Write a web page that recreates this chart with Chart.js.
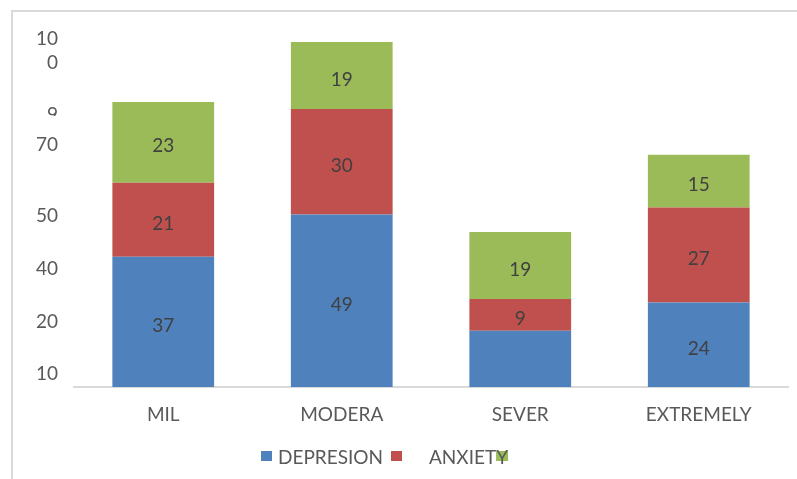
<!DOCTYPE html>
<html>
<head>
<meta charset="utf-8">
<script src="https://cdn.jsdelivr.net/npm/chart.js@4/dist/chart.umd.min.js"></script>
<style>
  html, body { margin: 0; padding: 0; background: #fff; }
  #wrap { width: 797px; height: 479px; position: relative; }
</style>
</head>
<body>
<div id="wrap"><canvas id="barChart"></canvas></div>
<script>
var categories = ['MIL', 'MODERA', 'SEVER', 'EXTREMELY'];
var depression = [37, 49, 16, 24];
var anxiety = [21, 30, 9, 27];
var stress = [23, 19, 19, 15];
// the SEVER depression segment has no number printed on it
var depressionLabels = ['37', '49', '', '24'];
var anxietyLabels = ['21', '30', '9', '27'];
var stressLabels = ['23', '19', '19', '15'];
var legendNames = ['DEPRESION', 'ANXIETY', ''];
// y tick labels as they appear (garbled) in the original
var tickValues = [95.5, 77.3, 68.8, 48.6, 33.7, 18.6, 3.8];
var tickLabels = [['10', '0'], '9', '70', '50', '40', '20', '10'];

var FONT = 'Lato';

var extras = {
    id: 'extras',
    beforeDraw: function (chart) {
        var ctx = chart.ctx;
        ctx.save();
        ctx.fillStyle = '#d9d9d9';
        ctx.fillRect(11, 10, 786, 2);
        ctx.fillRect(11, 10, 2, 469);
        ctx.restore();
    },
    afterDatasetsDraw: function (chart) {
        var ctx = chart.ctx;
        var labelSets = [depressionLabels, anxietyLabels, stressLabels];
        ctx.save();
        ctx.font = '19px ' + FONT;
        ctx.fillStyle = '#404040';
        ctx.textAlign = 'center';
        ctx.textBaseline = 'middle';
        chart.data.datasets.forEach(function (ds, d) {
            chart.getDatasetMeta(d).data.forEach(function (bar, i) {
                var t = labelSets[d][i];
                if (!t) return;
                ctx.fillText(t, bar.x, (bar.y + bar.base) / 2 + 4);
            });
        });
        ctx.restore();
    },
    afterDraw: function (chart) {
        var ctx = chart.ctx;
        ctx.save();
        // the "9" tick label is cut off in the original
        ctx.fillStyle = '#fff';
        ctx.fillRect(20, 116, 50, 12);

        // legend
        ctx.font = '19px ' + FONT;
        ctx.textBaseline = 'middle';
        var ds = chart.data.datasets;
        var y = 457;
        ctx.fillStyle = ds[0].backgroundColor;
        ctx.fillRect(261, y - 6, 11, 10);
        ctx.fillStyle = '#595959';
        ctx.fillText(legendNames[0], 278, y + 1);
        ctx.fillStyle = ds[1].backgroundColor;
        ctx.fillRect(391, y - 6, 11, 10);
        var w = ctx.measureText(legendNames[1]).width;
        ctx.fillStyle = ds[2].backgroundColor;
        ctx.fillRect(429 + w - 12, y - 6, 12, 10);
        ctx.fillStyle = '#595959';
        ctx.fillText(legendNames[1], 429, y + 1);
        ctx.restore();
    }
};

new Chart(document.getElementById('barChart').getContext('2d'), {
    type: 'bar',
    data: {
        labels: categories,
        datasets: [{
            label: legendNames[0],
            data: depression,
            backgroundColor: '#4F81BD'
        }, {
            label: legendNames[1],
            data: anxiety,
            backgroundColor: '#C0504D'
        }, {
            label: legendNames[2],
            data: stress,
            backgroundColor: '#9BBB59'
        }]
    },
    options: {
        responsive: true,
        maintainAspectRatio: false,
        animation: false,
        layout: { padding: { top: 35, right: 9, bottom: 0, left: 0 } },
        datasets: { bar: { categoryPercentage: 1, barPercentage: 0.57 } },
        plugins: { legend: { display: false }, tooltip: { enabled: false } },
        scales: {
            x: {
                stacked: true,
                grid: { display: false, drawTicks: false },
                border: { display: true, color: '#d9d9d9', width: 2 },
                ticks: { color: '#595959', font: { family: FONT, size: 19 }, padding: 16, maxRotation: 0 },
                afterFit: function (scale) { scale.height = 92; }
            },
            y: {
                stacked: true,
                min: 0,
                max: 100,
                grid: { display: false, drawTicks: false },
                border: { display: false },
                afterBuildTicks: function (scale) {
                    scale.ticks = tickValues.map(function (v) { return { value: v }; });
                },
                ticks: {
                    color: '#595959',
                    font: { family: FONT, size: 19, lineHeight: 1.3 },
                    padding: 16,
                    callback: function (value, index) { return tickLabels[index]; }
                },
                afterFit: function (scale) { scale.width = 74; }
            }
        }
    },
    plugins: [extras]
});
</script>
</body>
</html>
